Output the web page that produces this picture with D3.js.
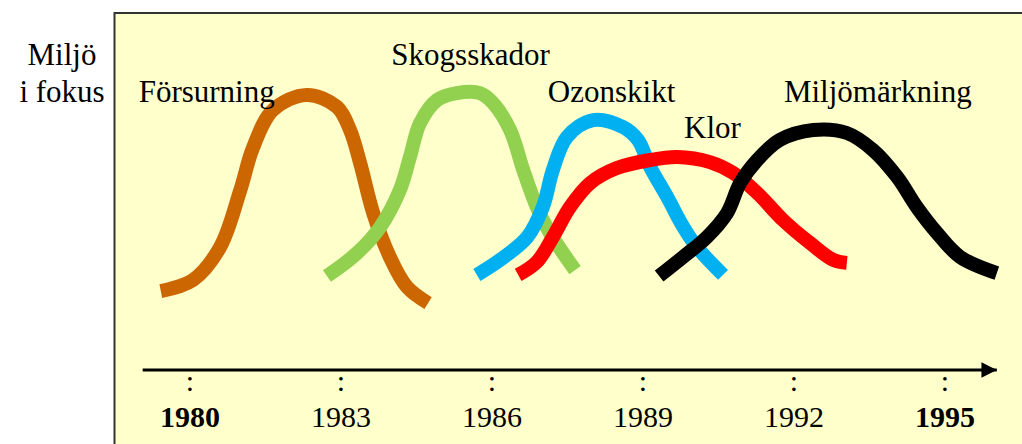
<!DOCTYPE html>
<html>
<head>
<meta charset="utf-8">
<script src="https://cdn.jsdelivr.net/npm/d3@7"></script>
<style>
  body { margin: 0; background: #fff; }
</style>
</head>
<body>
<div id="chart"></div>
<script>
// Years on the time axis
var years = [1980, 1983, 1986, 1989, 1992, 1995];
var boldYears = [1980, 1995];

// "Focus" curves: [year, attention 0-100]
var forsurning = [[1979.42, 26.3], [1980.06, 30], [1980.6, 41], [1981.0, 60], [1981.25, 74], [1981.65, 86.7],
  [1982.32, 91.7], [1982.92, 87.7], [1983.18, 80], [1983.38, 69], [1983.64, 52.3], [1983.97, 37.7],
  [1984.31, 27.7], [1984.73, 22.3]];
var skogsskador = [[1982.72, 31.3], [1983.32, 39], [1983.78, 47.7], [1984.17, 60], [1984.37, 71], [1984.57, 82.3],
  [1984.91, 90], [1985.3, 92.3], [1985.76, 92.3], [1986.02, 89], [1986.36, 80], [1986.62, 66.7],
  [1986.89, 54.3], [1987.15, 45.7], [1987.65, 33.3]];
var ozonskikt = [[1985.7, 31.7], [1986.16, 36.7], [1986.7, 44.3], [1987.01, 54.3], [1987.21, 66.7], [1987.49, 77.7],
  [1988.01, 83.3], [1988.6, 81], [1988.9, 76.7], [1989.14, 67.7], [1989.48, 57.7], [1989.8, 47.7],
  [1990.07, 41], [1990.59, 31.7]];
var klor = [[1986.52, 31.7], [1986.89, 36], [1987.21, 44.3], [1987.55, 54.3], [1987.95, 62.3], [1988.48, 67.3],
  [1989.14, 70], [1989.68, 71], [1990.33, 69.3], [1990.79, 65.7], [1991.27, 59], [1991.78, 50],
  [1992.32, 42.3], [1992.78, 36.7], [1993.05, 35.7]];
var miljomarkning = [[1989.32, 31.3], [1989.8, 37.7], [1990.27, 44.3], [1990.67, 52.3], [1990.93, 62.3], [1991.27, 70],
  [1991.72, 76.7], [1992.38, 80], [1993.05, 79], [1993.57, 73.3], [1994.05, 64.3], [1994.44, 54.3],
  [1994.84, 45.7], [1995.3, 37.7], [1996.03, 32.3]];

var seriesNames = ["Försurning", "Skogsskador", "Ozonskikt", "Klor", "Miljömärkning"];
var seriesData = [forsurning, skogsskador, ozonskikt, klor, miljomarkning];
var seriesColors = ["#CC6600", "#92D050", "#00B0F0", "#FF0000", "#000000"];
// label anchor [year, attention] (left edge / baseline)
var labelPos = [[1978.98, 89.3], [1984.0, 101.7], [1987.11, 89.3], [1989.815, 77.3], [1991.8, 89.3]];

var width = 1022, height = 444,
  serif = "'Liberation Serif', 'Times New Roman', Times, serif";

var x = d3.scaleLinear().domain([1980, 1995]).range([190, 945]);
var y = d3.scaleLinear().domain([0, 100]).range([370, 70]);

var svg = d3.select("#chart").append("svg")
  .attr("width", width)
  .attr("height", height)
  .attr("font-family", serif);

// panel
svg.append("rect")
  .attr("x", 114.5).attr("y", 13)
  .attr("width", width + 10).attr("height", height + 10)
  .style("fill", "#FFFFCC")
  .style("stroke", "#333")
  .style("stroke-width", 2);

// y caption
svg.append("text").attr("x", 62).attr("y", 65).attr("text-anchor", "middle")
  .attr("font-family", serif).attr("font-size", 31).text("Miljö");
svg.append("text").attr("x", 62).attr("y", 102).attr("text-anchor", "middle")
  .attr("font-family", serif).attr("font-size", 31).text("i fokus");

// curves
var line = d3.line()
  .x(function (d) { return x(d[0]); })
  .y(function (d) { return y(d[1]); })
  .curve(d3.curveCatmullRom.alpha(0.5));

svg.selectAll(".curve")
  .data(seriesData)
  .enter().append("path")
  .attr("class", "curve")
  .attr("d", line)
  .style("fill", "none")
  .style("stroke", function (d, i) { return seriesColors[i]; })
  .style("stroke-width", 14)
  .style("stroke-linejoin", "round");

// labels
svg.selectAll(".lbl")
  .data(seriesNames)
  .enter().append("text")
  .attr("class", "lbl")
  .attr("x", function (d, i) { return x(labelPos[i][0]); })
  .attr("y", function (d, i) { return y(labelPos[i][1]); })
  .attr("font-family", serif)
  .attr("font-size", 31)
  .text(function (d) { return d; });

// time axis with arrow
svg.append("defs").append("marker")
  .attr("id", "arrow")
  .attr("viewBox", "0 0 10 10")
  .attr("refX", 10).attr("refY", 5)
  .attr("markerWidth", 5.5).attr("markerHeight", 5.5)
  .attr("markerUnits", "strokeWidth")
  .attr("orient", "auto")
  .append("path").attr("d", "M0,0L10,5L0,10Z").style("fill", "#000");

svg.append("line")
  .attr("x1", x(1979.06)).attr("x2", x(1996.03))
  .attr("y1", y(0)).attr("y2", y(0))
  .style("stroke", "#000")
  .style("stroke-width", 2.8)
  .attr("marker-end", "url(#arrow)");

var ticks = svg.selectAll(".tick")
  .data(years)
  .enter().append("g")
  .attr("class", "tick")
  .attr("transform", function (d) { return "translate(" + x(d) + "," + y(0) + ")"; });

ticks.append("text")
  .attr("y", 21)
  .attr("text-anchor", "middle")
  .attr("font-family", serif)
  .attr("font-size", 30)
  .text(":");

ticks.append("text")
  .attr("y", 57)
  .attr("text-anchor", "middle")
  .attr("font-family", serif)
  .attr("font-size", 30)
  .attr("font-weight", function (d) { return boldYears.indexOf(d) >= 0 ? "bold" : "normal"; })
  .text(function (d) { return d; });
</script>
</body>
</html>
